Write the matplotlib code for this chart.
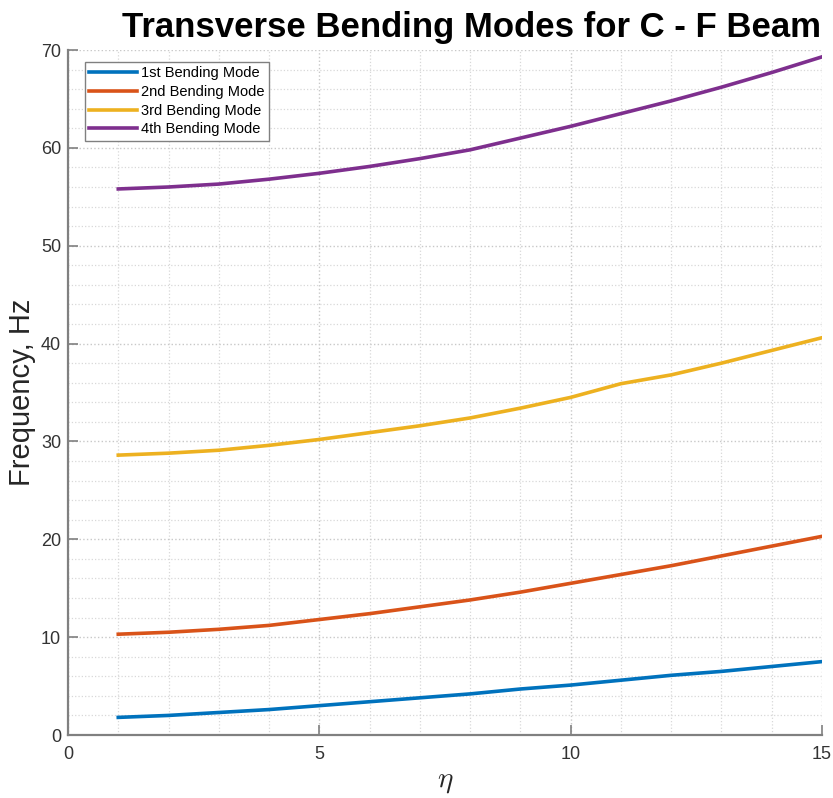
import numpy as np
import matplotlib.pyplot as plt
from matplotlib.ticker import MultipleLocator

plt.rcParams['font.family'] = ['Liberation Sans', 'DejaVu Sans']
plt.rcParams['mathtext.fontset'] = 'cm'

# slenderness parameter
eta = [1, 2, 3, 4, 5, 6, 7, 8, 9, 10, 11, 12, 13, 14, 15]

# natural frequencies, Hz
mode1 = [1.8, 2.0, 2.3, 2.6, 3.0, 3.4, 3.8, 4.2, 4.7, 5.1, 5.6, 6.1, 6.5, 7.0, 7.5]
mode2 = [10.3, 10.5, 10.8, 11.2, 11.8, 12.4, 13.1, 13.8, 14.6, 15.5, 16.4, 17.3, 18.3, 19.3, 20.3]
mode3 = [28.6, 28.8, 29.1, 29.6, 30.2, 30.9, 31.6, 32.4, 33.4, 34.5, 35.9, 36.8, 38.0, 39.3, 40.6]
mode4 = [55.8, 56.0, 56.3, 56.8, 57.4, 58.1, 58.9, 59.8, 61.0, 62.2, 63.5, 64.8, 66.2, 67.7, 69.3]

labels = ['1st Bending Mode', '2nd Bending Mode', '3rd Bending Mode', '4th Bending Mode']
colors = ['#0072BD', '#D95319', '#EDB120', '#7E2F8E']

fig = plt.figure(figsize=(8.33, 7.98), dpi=100)
ax = fig.add_axes([68/833, 63/798, 754/833, 685/798])

for y, lab, c in zip([mode1, mode2, mode3, mode4], labels, colors):
    ax.plot(eta, y, color=c, lw=2.6, label=lab)

ax.set_xlim(0, 15)
ax.set_ylim(0, 70)
ax.xaxis.set_major_locator(MultipleLocator(5))
ax.yaxis.set_major_locator(MultipleLocator(10))
ax.xaxis.set_minor_locator(MultipleLocator(1))
ax.yaxis.set_minor_locator(MultipleLocator(2))

ax.grid(True, which='major', ls=':', color='#c8c8c8', lw=1.0)
ax.grid(True, which='minor', ls=':', color='#d8d8d8', lw=0.9)
ax.set_axisbelow(True)

for s in ['top', 'right']:
    ax.spines[s].set_visible(False)
for s in ['left', 'bottom']:
    ax.spines[s].set_color('#808080')
    ax.spines[s].set_linewidth(1.6)

ax.tick_params(which='major', direction='in', length=7, width=1.2, color='#808080',
               labelsize=13, labelcolor='#333333')
ax.tick_params(axis='x', which='major', pad=8)
ax.tick_params(axis='y', which='major', pad=5)
ax.tick_params(which='minor', length=0)

ax.set_title('Transverse Bending Modes for C - F Beam', fontsize=25, fontweight='bold',
             x=0.535, pad=9)
ax.set_ylabel('Frequency, Hz', fontsize=21, color='#262626')
ax.yaxis.set_label_coords(-0.042, 0.5)
ax.set_xlabel(r'$\eta$', fontsize=21, color='#262626')
ax.xaxis.set_label_coords(0.5, -0.046)

leg = ax.legend(loc='upper left', bbox_to_anchor=(0.022, 0.983), fontsize=10.5,
                fancybox=False, framealpha=1, edgecolor='#808080',
                handlelength=3.3, handletextpad=0.3, labelspacing=0.33,
                borderpad=0.3, borderaxespad=0)
leg.get_frame().set_linewidth(1.0)

fig.savefig('out.png', dpi=100)
